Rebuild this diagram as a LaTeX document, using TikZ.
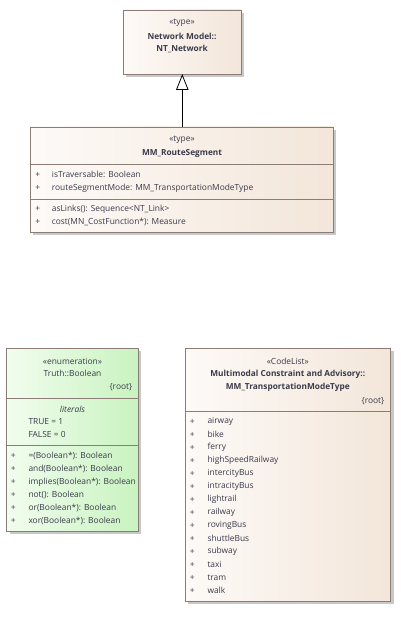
\documentclass[tikz,border=0pt]{standalone}
\usepackage{fontspec}
\setmainfont{Open Sans}
\usetikzlibrary{arrows.meta}
\definecolor{txt}{HTML}{3A3A4A}
\definecolor{frame}{HTML}{8C7C78}
\definecolor{bgL}{HTML}{FDFAF7}
\definecolor{bgR}{HTML}{F3E6DA}
\definecolor{gL}{HTML}{F1FDEE}
\definecolor{gR}{HTML}{C9F3C0}
\definecolor{shad}{HTML}{C8C8C8}
\tikzset{
  x=1pt,y=-1pt,
  every node/.style={text=txt,font=\fontsize{8.4}{10}\selectfont,inner sep=0pt},
  boxb/.style={draw=frame,line width=0.6pt,left color=bgL,right color=bgR,shading angle=90},
  boxg/.style={draw=frame,line width=0.6pt,left color=gL,right color=gR},
  shadow/.style={fill=shad,draw=none},
  sep/.style={draw=frame,line width=0.6pt},
  ctr/.style={anchor=center},
  lft/.style={anchor=west},
  rgt/.style={anchor=east},
  bld/.style={font=\fontsize{8.3}{10}\selectfont\bfseries},
}
\begin{document}
\begin{tikzpicture}
\useasboundingbox (0,0) rectangle (401,631);
% NT_Network
\fill[shadow] (126,13) rectangle (244,77);
\path[boxb] (123,10) rectangle (241,74);
\node[ctr] (nts) at (182,23) {«type»};
\node[ctr,bld] (ntn) at (182,36) {Network Model::};
\node[ctr,bld] (ntn2) at (182,49) {NT\_Network};
\coordinate (ntb) at (182.3,74);
% MM_RouteSegment
\fill[shadow] (33,130) rectangle (336,235);
\path[boxb] (30,127) rectangle (333,232);
\coordinate (rst) at (182.3,127);
\draw[sep] (30,164.3) -- (333,164.3);
\draw[sep] (30,199) -- (333,199);
\node[ctr] (rss) at (182,140) {«type»};
\node[ctr,bld] (rsn) at (182,153.3) {MM\_RouteSegment};
\node[ctr] at (37.7,174.7) {+}; \node[lft] (a1) at (51.7,174.7) {isTraversable: Boolean};
\node[ctr] at (37.7,188) {+}; \node[lft] (a2) at (51.7,188) {routeSegmentMode: MM\_TransportationModeType};
\node[ctr] at (37.7,209.3) {+}; \node[lft] (o1) at (51.7,209.3) {asLinks(): Sequence<NT\_Link>};
\node[ctr] at (37.7,221.7) {+}; \node[lft] (o2) at (51.7,221.7) {cost(MN\_CostFunction*): Measure};
\draw[line width=0.8pt,-{Triangle[open,length=16pt,width=12.5pt]}] (rst) -- (ntb);
% Boolean
\fill[shadow] (9.7,351.3) rectangle (141.3,534);
\path[boxg] (6.7,348.3) rectangle (138.3,531);
\draw[sep] (6.7,398.3) -- (138.3,398.3);
\draw[sep] (6.7,445.7) -- (138.3,445.7);
\node[ctr] (bs) at (72.5,361) {«enumeration»};
\node[ctr] (bn) at (72.5,373.7) {Truth::Boolean};
\node[rgt] (br) at (132.5,386.7) {\{root\}};
\node[ctr,font=\fontsize{8.4}{10}\selectfont\itshape] (bl) at (72.5,409) {literals};
\node[lft] (l1) at (28.3,421.7) {TRUE = 1};
\node[lft] (l2) at (28.3,434.3) {FALSE = 0};
\foreach \y/\t [count=\i] in {456.3/{=(Boolean*): Boolean},469/{and(Boolean*): Boolean},482/{implies(Boolean*): Boolean},495/{not(): Boolean},507.7/{or(Boolean*): Boolean},520.7/{xor(Boolean*): Boolean}}{
  \node[ctr] at (13.3,\y) {+};
  \node[lft] (bo\i) at (28.3,\y) {\t};
}
% CodeList
\fill[shadow] (188,351.3) rectangle (393.7,604);
\path[boxb] (185,348.3) rectangle (390.7,601);
\draw[sep] (185,411) -- (390.7,411);
\node[ctr] (cs) at (287.8,361) {«CodeList»};
\node[ctr,bld] (cn1) at (287.8,374.3) {Multimodal Constraint and Advisory::};
\node[ctr,bld] (cn2) at (287.8,387) {MM\_TransportationModeType};
\node[rgt] (cr) at (384.5,400.7) {\{root\}};
\foreach \t [count=\i from 0] in {airway,bike,ferry,highSpeedRailway,intercityBus,intracityBus,lightrail,railway,rovingBus,shuttleBus,subway,taxi,tram,walk}{
  \node[ctr] at (192.3,421.7+\i*13) {+};
  \node[lft] (c\i) at (207.3,421.7+\i*13) {\t};
}
\end{tikzpicture}
\end{document}
